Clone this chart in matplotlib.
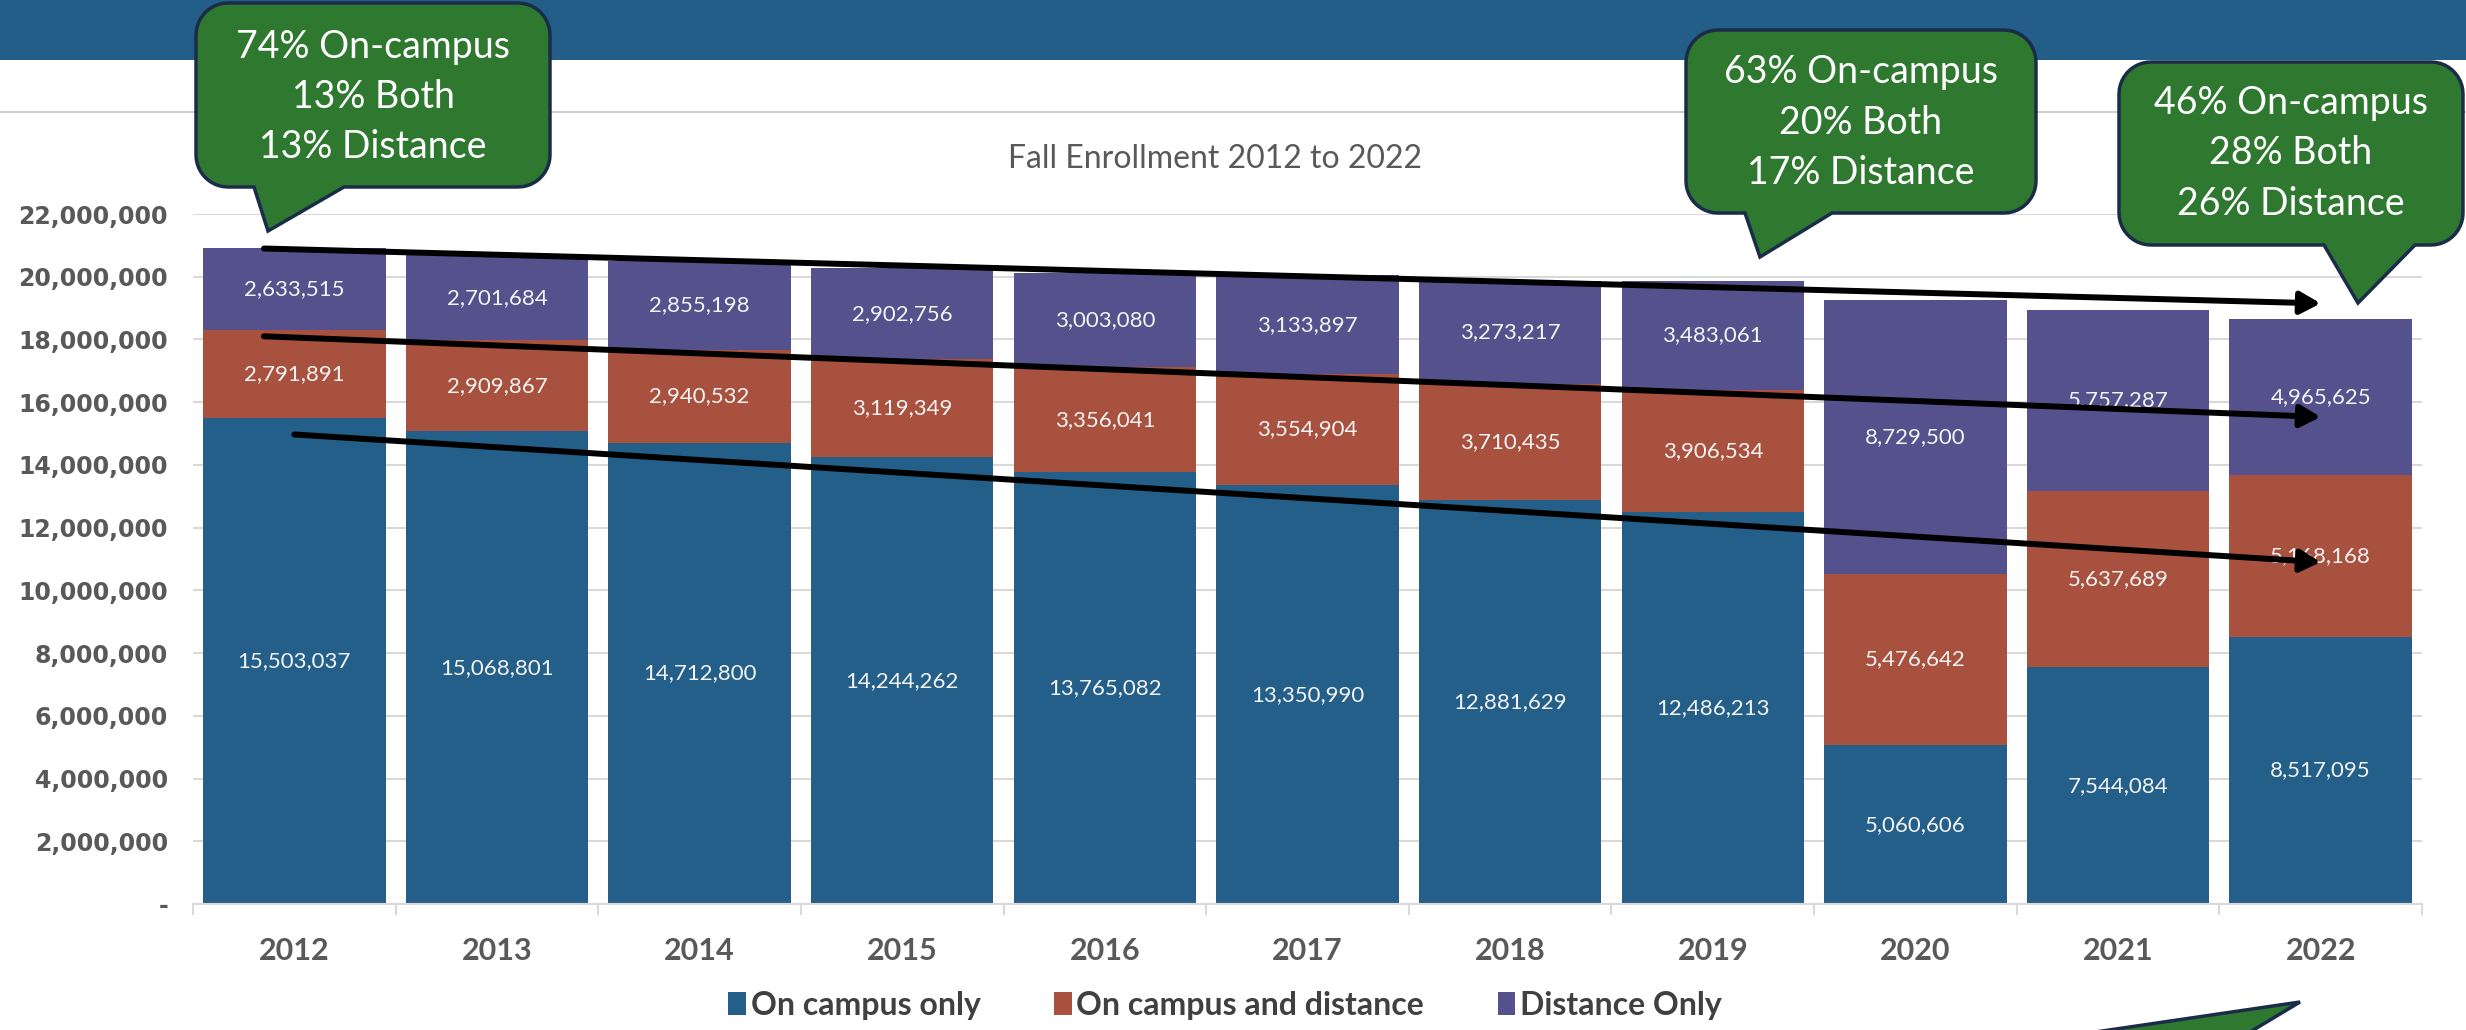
import matplotlib
matplotlib.use("Agg")
import matplotlib.pyplot as plt
import numpy as np
from matplotlib.patches import Rectangle, Polygon, Patch
from matplotlib.lines import Line2D
from matplotlib.transforms import IdentityTransform
from matplotlib.ticker import FuncFormatter, FixedLocator

# ---------------- data ----------------
years = ["2012", "2013", "2014", "2015", "2016", "2017", "2018", "2019", "2020", "2021", "2022"]
on_campus_only = [15503037, 15068801, 14712800, 14244262, 13765082, 13350990,
                  12881629, 12486213, 5060606, 7544084, 8517095]
on_campus_and_distance = [2791891, 2909867, 2940532, 3119349, 3356041, 3554904,
                          3710435, 3906534, 5476642, 5637689, 5168168]
distance_only = [2633515, 2701684, 2855198, 2902756, 3003080, 3133897,
                 3273217, 3483061, 8729500, 5757287, 4965625]
series_names = ["On campus only", "On campus and distance", "Distance Only"]
title = "Fall Enrollment 2012 to 2022"
callout_texts = [
    ["74% On-campus", "13% Both", "13% Distance"],
    ["63% On-campus", "20% Both", "17% Distance"],
    ["46% On-campus", "28% Both", "26% Distance"],
]
# trend arrows: (start index, start value, end index, end value)
trend_arrows = [
    (-0.15, 20900000, 10.0, 19150000),
    (-0.15, 18100000, 10.0, 15530000),
    (0.0, 14970000, 10.0, 10900000),
]

# ---------------- style ----------------
W, H = 2466, 1030
C_BLUE = "#245F8A"
C_RED = "#A8513F"
C_PURPLE = "#55518C"
C_BAND = "#235E89"
C_GREEN = "#2E782F"
C_NAVY = "#1B2C48"
C_GRID = "#D9D9D9"
C_TXT = "#595959"

fig = plt.figure(figsize=(W / 100, H / 100), dpi=100)
fig.patch.set_facecolor("white")

# top band & separator line
fig.add_artist(Rectangle((0, 1 - 60 / H), 1, 60 / H, transform=fig.transFigure,
                         facecolor=C_BAND, edgecolor="none", zorder=0))
fig.add_artist(Line2D([0, 1], [1 - 112 / H] * 2, transform=fig.transFigure,
                      color="#CFCFCF", lw=1.5, zorder=0))

# axes
ax_l, ax_r, ax_t, ax_b = 193, 2422, 214, 904
ax = fig.add_axes([ax_l / W, 1 - ax_b / H, (ax_r - ax_l) / W, (ax_b - ax_t) / H])
x = np.arange(len(years))
oc = np.array(on_campus_only)
both = np.array(on_campus_and_distance)
dist = np.array(distance_only)
bw = 0.9
ax.bar(x, oc, bw, color=C_BLUE, label=series_names[0], zorder=2)
ax.bar(x, both, bw, bottom=oc, color=C_RED, label=series_names[1], zorder=2)
ax.bar(x, dist, bw, bottom=oc + both, color=C_PURPLE, label=series_names[2], zorder=2)

for vals, bottoms in ((oc, np.zeros_like(oc)), (both, oc), (dist, oc + both)):
    for xi, v, b in zip(x, vals, bottoms):
        ax.text(xi, b + v / 2, f"{v:,}", ha="center", va="center", color="#F4F4F4",
                fontsize=16, family="Lato", zorder=4)

ax.set_xlim(-0.5, len(years) - 0.5)
ax.set_ylim(0, 22000000)
ax.set_yticks(np.arange(0, 22000001, 2000000))
ax.yaxis.set_major_formatter(FuncFormatter(lambda v, p: "-" if v == 0 else f"{int(v):,}"))
ax.set_xticks(x)
ax.set_xticklabels(years)
ax.xaxis.set_minor_locator(FixedLocator(np.arange(-0.5, len(years), 1.0)))
ax.tick_params(axis="x", which="major", length=0, pad=24)
ax.tick_params(axis="x", which="minor", length=8, width=1.5, color=C_GRID, direction="out")
ax.tick_params(axis="y", length=0, pad=18)
for lab in ax.get_yticklabels():
    lab.set_fontfamily("DejaVu Sans"); lab.set_fontweight("bold")
    lab.set_fontsize(17); lab.set_color(C_TXT)
for lab in ax.get_xticklabels():
    lab.set_fontfamily("Lato"); lab.set_fontweight("bold")
    lab.set_fontsize(22); lab.set_color(C_TXT)
ax.grid(axis="y", color=C_GRID, lw=1.5, zorder=0)
ax.set_axisbelow(True)
for s in ("left", "right", "top"):
    ax.spines[s].set_visible(False)
ax.spines["bottom"].set_color(C_GRID)
ax.spines["bottom"].set_linewidth(1.5)

# title
fig.text(1215 / W, 1 - 159 / H, title, ha="center", va="center", color=C_TXT,
         fontsize=23, family="Lato")

# trend arrows
for x0, y0, x1, y1 in trend_arrows:
    ax.annotate("", xy=(x1, y1), xytext=(x0, y0),
                arrowprops=dict(arrowstyle="-|>,head_length=0.6,head_width=0.33",
                                lw=4.3, color="black", mutation_scale=20,
                                shrinkA=0, shrinkB=0), zorder=5)

# callouts
def callout(x0, y0, x1, y1, r, tb0, tb1, tipx, tipy):
    # image coords (y down) -> display coords
    pts = []
    def arc(cx, cy, a0, a1):
        for a in np.linspace(np.radians(a0), np.radians(a1), 12):
            pts.append((cx + r * np.cos(a), cy + r * np.sin(a)))
    X0, X1 = x0, x1
    Yb, Yt = H - y1, H - y0
    pts.append((X0 + r, Yb))
    pts.append((tb0, Yb))
    pts.append((tipx, H - tipy))
    pts.append((tb1, Yb))
    arc(X1 - r, Yb + r, -90, 0)
    arc(X1 - r, Yt - r, 0, 90)
    arc(X0 + r, Yt - r, 90, 180)
    arc(X0 + r, Yb + r, 180, 270)
    poly = Polygon(pts, closed=True, facecolor=C_GREEN, edgecolor=C_NAVY, lw=2.5,
                   transform=IdentityTransform(), zorder=10)
    fig.add_artist(poly)

callout_boxes = [
    (196, 3, 550, 187, 32, 254, 344, 268, 231),
    (1686, 30, 2036, 213, 32, 1745, 1832, 1760, 257),
    (2119, 62, 2463, 245, 32, 2324, 2415, 2358, 303),
]
callout_text_pos = [
    (373, [47, 97, 147]),
    (1861, [72, 123, 173]),
    (2291, [103, 153, 204]),
]
for box, (cx, ys), lines in zip(callout_boxes, callout_text_pos, callout_texts):
    callout(*box)
    for yy, t in zip(ys, lines):
        fig.text(cx / W, 1 - yy / H, t, ha="center", va="center", color="white",
                 fontsize=27, family="Lato", zorder=11)

# green arrow tip at bottom right
fig.add_artist(Polygon([(2075, -5), (2300, H - 1002), (2245, -5)], closed=True,
                       facecolor=C_GREEN, edgecolor=C_NAVY, lw=2.5,
                       transform=IdentityTransform(), zorder=10))

# legend
handles = [Patch(facecolor=c) for c in (C_BLUE, C_RED, C_PURPLE)]
leg = fig.legend(handles, series_names, loc="center", bbox_to_anchor=(1225 / W, 1 - 1005 / H),
                 ncol=3, frameon=False, handlelength=0.55, handleheight=0.7,
                 handletextpad=0.15, columnspacing=2.3, borderaxespad=0,
                 prop={"family": "Lato", "weight": "bold", "size": 23})
for t in leg.get_texts():
    t.set_color("#404040")

fig.savefig("out.png", dpi=100, facecolor="white")
